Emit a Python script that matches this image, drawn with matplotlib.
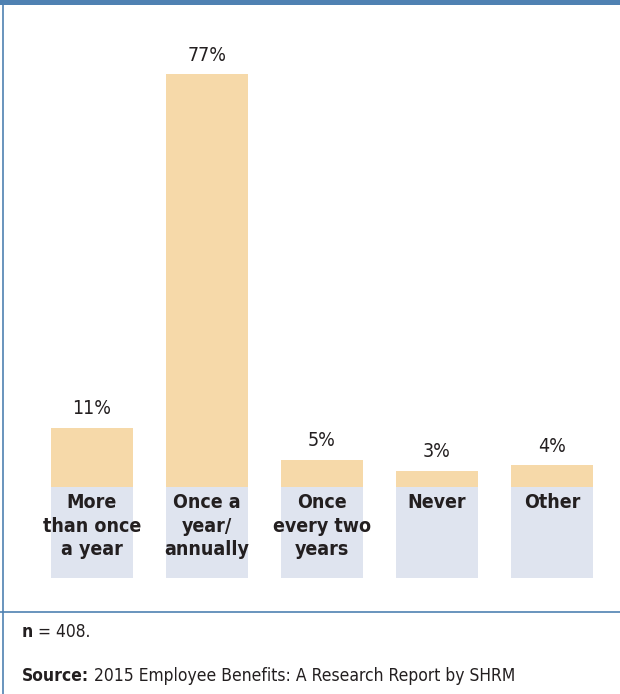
import matplotlib.pyplot as plt
from matplotlib.lines import Line2D
from matplotlib.patches import Rectangle

# Datos del gráfico
categories = ["More\nthan once\na year", "Once a\nyear/\nannually", "Once\nevery two\nyears", "Never", "Other"]
values = [11, 77, 5, 3, 4]
value_labels = ["11%", "77%", "5%", "3%", "4%"]
sample_note = "= 408."
source_note = "2015 Employee Benefits: A Research Report by SHRM"

plt.rcParams['font.family'] = ['DejaVu Sans']
plt.rcParams['font.stretch'] = 'condensed'

bar_color = '#f6d9a9'
box_color = '#dfe4ef'
text_color = '#231f20'
frame_color = '#4f81b2'

fig = plt.figure(figsize=(6.2, 6.94), dpi=100)
ax = fig.add_axes([0.0556, 0.1441, 0.9274, 0.8107])

x = list(range(len(categories)))
ax.bar(x, values, width=0.713, color=bar_color)
# Cajas de etiquetas bajo la línea base
ax.bar(x, [-17] * len(x), width=0.713, color=box_color)

for i, (v, lab) in enumerate(zip(values, value_labels)):
    ax.text(i, v + 1.8, lab, ha='center', va='bottom', fontsize=14,
            color=text_color)

for i, cat in enumerate(categories):
    ax.text(i, -1.1, cat, ha='center', va='top', fontsize=14,
            fontweight='bold', color=text_color, linespacing=1.32)

ax.set_xlim(-0.5, 4.5)
ax.set_ylim(-20, 85)
ax.axis('off')

# Marco del gráfico
fig.add_artist(Rectangle((0, 1 - 5 / 694), 1, 5 / 694, transform=fig.transFigure,
                         color=frame_color, lw=0))
fig.add_artist(Line2D([3 / 620, 3 / 620], [0, 1], transform=fig.transFigure,
                      color=frame_color, lw=1.2))
fig.add_artist(Line2D([0, 1], [1 - 612 / 694] * 2, transform=fig.transFigure,
                      color=frame_color, lw=1.2))

# Notas al pie
t1 = fig.text(22 / 620, 1 - 632 / 694, "n", fontsize=12.5, fontweight='bold',
              color=text_color, va='center')
t2 = fig.text(22 / 620, 1 - 676 / 694, "Source:", fontsize=12.5, fontweight='bold',
              color=text_color, va='center')
ax.annotate(" " + sample_note, xy=(1, 0.5), xycoords=t1, va='center',
            fontsize=12.5, color=text_color, annotation_clip=False)
ax.annotate(" " + source_note, xy=(1, 0.5), xycoords=t2, va='center',
            fontsize=12.5, color=text_color, annotation_clip=False)

fig.savefig('out.png', dpi=100)
